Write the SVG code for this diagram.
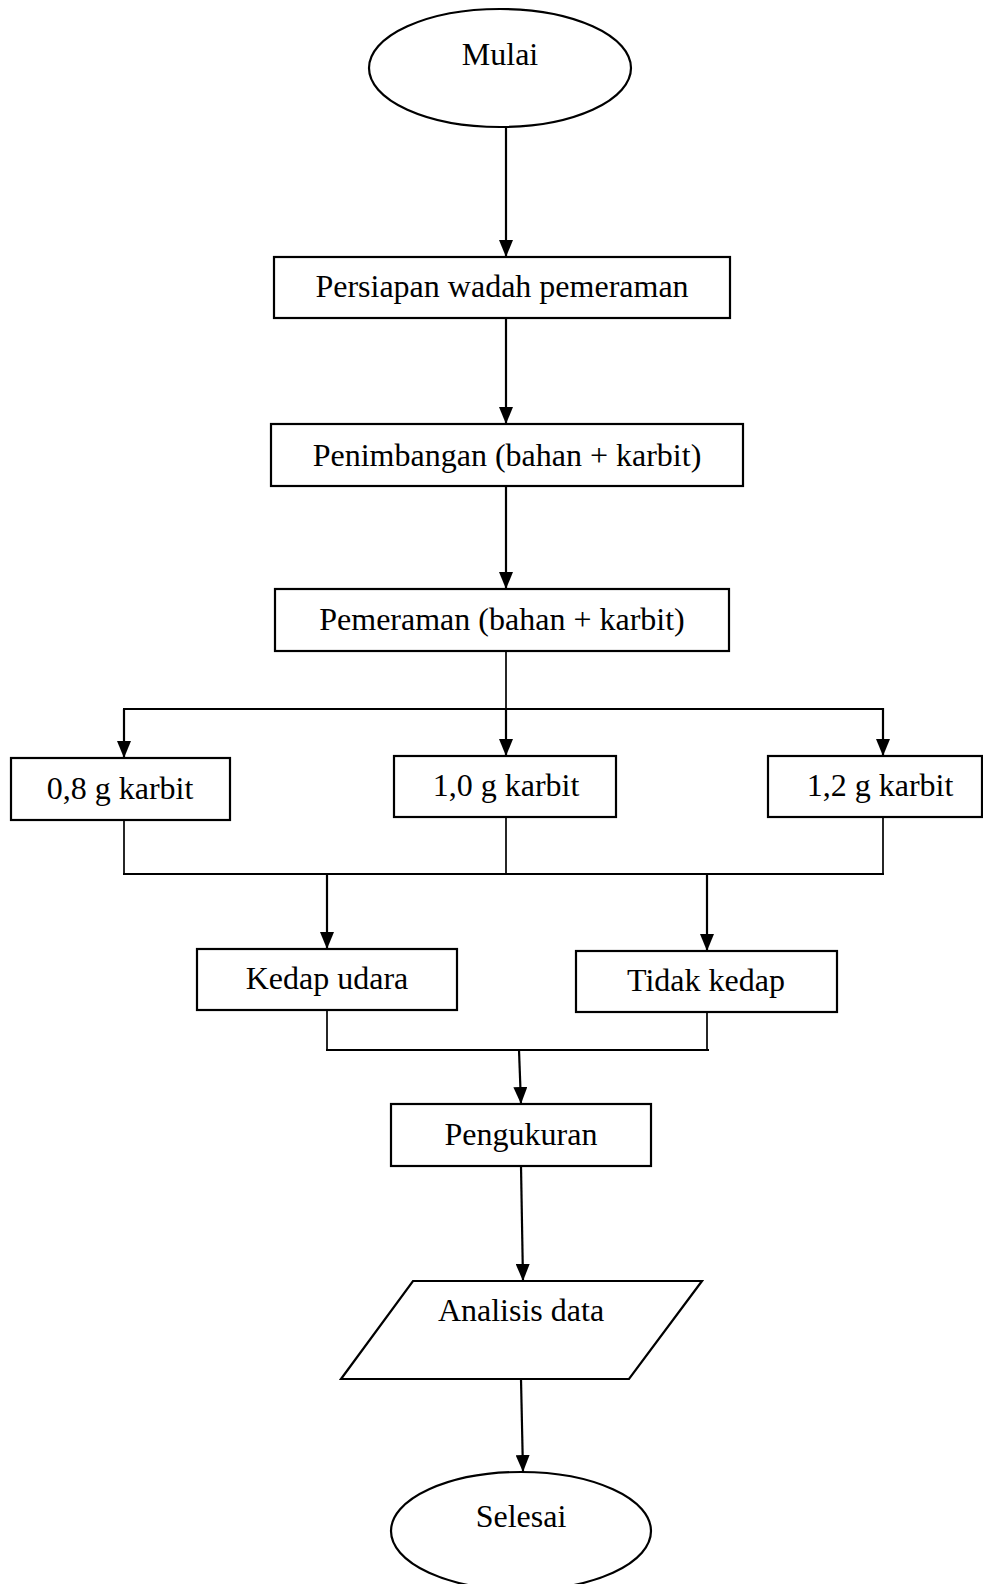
<svg xmlns="http://www.w3.org/2000/svg" width="983" height="1584" viewBox="0 0 983 1584">
<style>
.n{fill:#fff;stroke:#000;stroke-width:2.2}
.t{font-family:"Liberation Serif","Times New Roman",serif;font-size:32px;fill:#000;text-anchor:middle}
.c{fill:none;stroke:#000;stroke-width:2.2}
.m{fill:none;stroke:#000;stroke-width:1.7}
</style>
<defs>
<marker id="a" markerUnits="userSpaceOnUse" markerWidth="17" markerHeight="14" refX="17" refY="7" orient="auto" viewBox="0 0 17 14">
<path d="M0,0 L17,7 L0,14 Z" fill="#000"/>
</marker>
</defs>
<g id="connectors">
<line class="c" x1="506" y1="128" x2="506" y2="257" marker-end="url(#a)"/>
<line class="c" x1="506" y1="318" x2="506" y2="424" marker-end="url(#a)"/>
<line class="c" x1="506" y1="486" x2="506" y2="589" marker-end="url(#a)"/>
<line class="m" x1="506" y1="651" x2="506" y2="709"/>
<polyline class="c" points="123,709 883,709 883,756" marker-end="url(#a)"/>
<line class="c" x1="124" y1="709" x2="124" y2="758" marker-end="url(#a)"/>
<line class="c" x1="506" y1="709" x2="506" y2="756" marker-end="url(#a)"/>
<line class="m" x1="124" y1="820" x2="124" y2="874"/>
<line class="m" x1="506" y1="817" x2="506" y2="874"/>
<line class="m" x1="883" y1="817" x2="883" y2="874"/>
<line class="c" x1="123" y1="874" x2="884" y2="874"/>
<line class="c" x1="327" y1="874" x2="327" y2="949" marker-end="url(#a)"/>
<line class="c" x1="707" y1="874" x2="707" y2="951" marker-end="url(#a)"/>
<line class="m" x1="327" y1="1010" x2="327" y2="1050"/>
<line class="m" x1="707" y1="1010" x2="707" y2="1050"/>
<line class="c" x1="326" y1="1050" x2="709" y2="1050"/>
<line class="c" x1="519" y1="1050" x2="521" y2="1104" marker-end="url(#a)"/>
<line class="c" x1="521" y1="1166" x2="523" y2="1281" marker-end="url(#a)"/>
<line class="c" x1="521" y1="1379" x2="523" y2="1472" marker-end="url(#a)"/>
</g>
<g id="mulai">
<ellipse class="n" cx="500" cy="68" rx="131" ry="59"/>
<text class="t" x="500" y="65">Mulai</text>
</g>
<g id="persiapan">
<rect class="n" x="274" y="257" width="456" height="61"/>
<text class="t" x="502" y="297">Persiapan wadah pemeraman</text>
</g>
<g id="penimbangan">
<rect class="n" x="271" y="424" width="472" height="62"/>
<text class="t" x="507" y="466">Penimbangan (bahan + karbit)</text>
</g>
<g id="pemeraman">
<rect class="n" x="275" y="589" width="454" height="62"/>
<text class="t" x="502" y="630">Pemeraman (bahan + karbit)</text>
</g>
<g id="k08">
<rect class="n" x="11" y="758" width="219" height="62"/>
<text class="t" x="120" y="799">0,8 g karbit</text>
</g>
<g id="k10">
<rect class="n" x="394" y="756" width="222" height="61"/>
<text class="t" x="506" y="796">1,0 g karbit</text>
</g>
<g id="k12">
<rect class="n" x="768" y="756" width="214" height="61"/>
<text class="t" x="880" y="796">1,2 g karbit</text>
</g>
<g id="kedap">
<rect class="n" x="197" y="949" width="260" height="61"/>
<text class="t" x="327" y="989">Kedap udara</text>
</g>
<g id="tidak">
<rect class="n" x="576" y="951" width="261" height="61"/>
<text class="t" x="706" y="991">Tidak kedap</text>
</g>
<g id="pengukuran">
<rect class="n" x="391" y="1104" width="260" height="62"/>
<text class="t" x="521" y="1145">Pengukuran</text>
</g>
<g id="analisis">
<polygon class="n" points="413,1281 702,1281 629,1379 341,1379"/>
<text class="t" x="521" y="1321">Analisis data</text>
</g>
<g id="selesai">
<ellipse class="n" cx="521" cy="1531" rx="130" ry="59"/>
<text class="t" x="521" y="1527">Selesai</text>
</g>
</svg>
